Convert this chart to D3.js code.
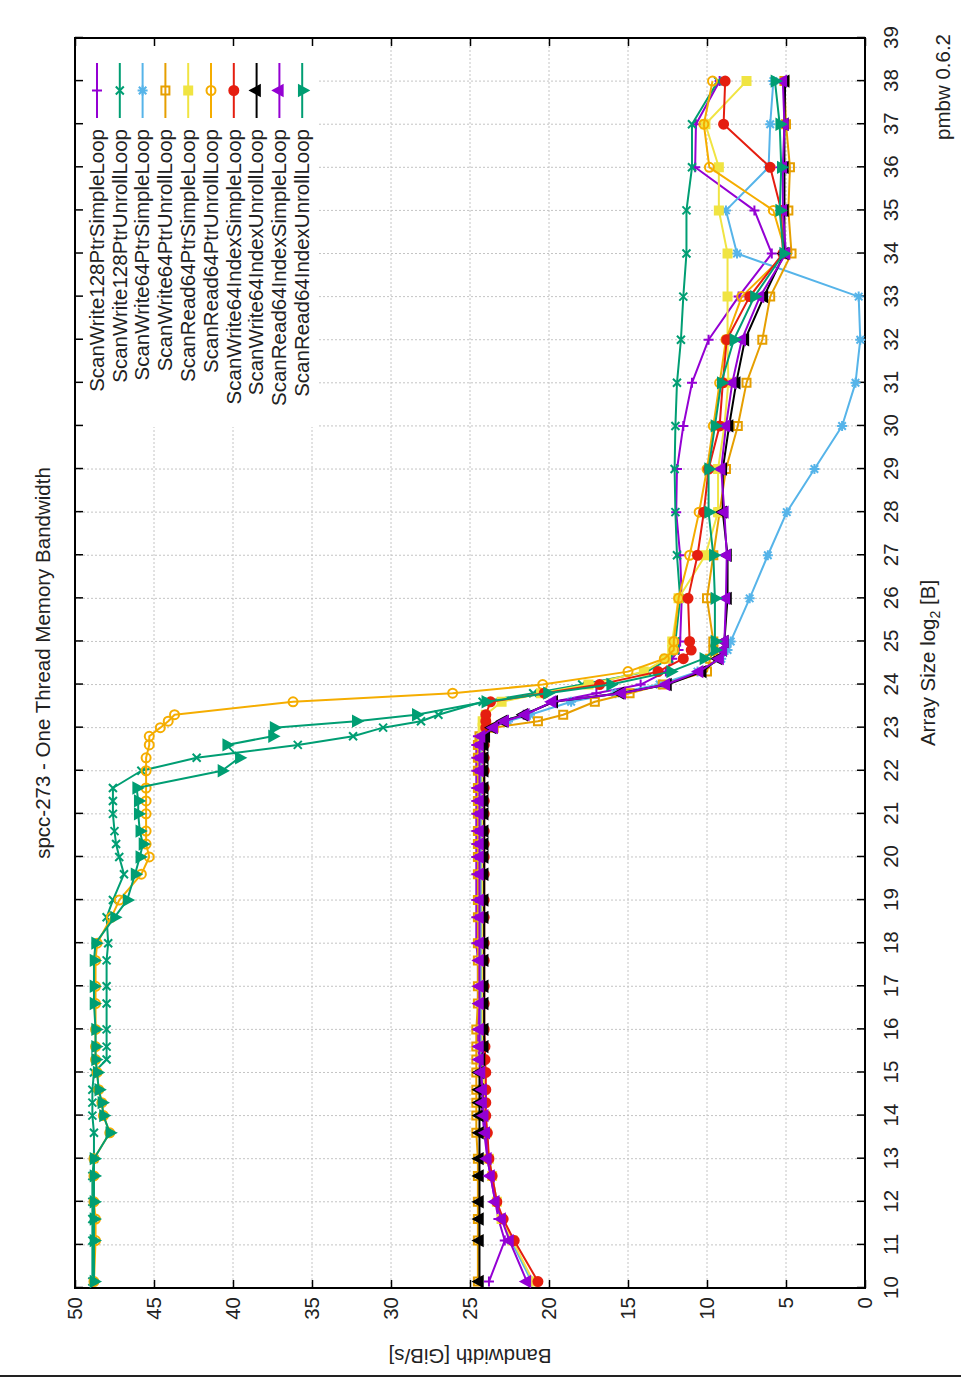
<!DOCTYPE html>
<html>
<head>
<meta charset="utf-8">
<script src="https://cdn.jsdelivr.net/npm/d3@7"></script>
<style>
  body { margin: 0; background: #fff; }
  svg { display: block; }
  text { font-family: "Liberation Sans", Arial, sans-serif; fill: #222; }
</style>
</head>
<body>
<svg id="chart" width="961" height="1381"></svg>
<script>
// array size (log2 bytes) of every measurement
const sizes = [10.15, 11.1, 11.6, 12.0, 12.6, 13.0, 13.6, 14.0, 14.3, 14.6,
  15.0, 15.3, 15.6, 16.0, 16.6, 17.0, 17.6, 18.0, 18.6, 19.0,
  19.6, 20.0, 20.3, 20.6, 21.0, 21.3, 21.6, 22.0, 22.3, 22.6,
  22.8, 23.0, 23.15, 23.3, 23.6, 23.8, 24.0, 24.3, 24.6, 24.8, 25.0,
  26, 27, 28, 29, 30, 31, 32, 33, 34, 35, 36, 37, 38];

const seriesNames = ['ScanWrite128PtrSimpleLoop', 'ScanWrite128PtrUnrollLoop', 'ScanWrite64PtrSimpleLoop',
  'ScanWrite64PtrUnrollLoop', 'ScanRead64PtrSimpleLoop', 'ScanRead64PtrUnrollLoop',
  'ScanWrite64IndexSimpleLoop', 'ScanWrite64IndexUnrollLoop', 'ScanRead64IndexSimpleLoop',
  'ScanRead64IndexUnrollLoop'];

// bandwidth GiB/s
const sw128PtrSimple = [23.8, 22.8, 23.2, 23.4, 23.7, 23.9, 24.1, 24.2, 24.3, 24.3,
  24.4, 24.4, 24.5, 24.5, 24.5, 24.5, 24.5, 24.6, 24.6, 24.6,
  24.6, 24.6, 24.6, 24.6, 24.6, 24.6, 24.6, 24.6, 24.6, 24.6,
  24.5, 24.0, 22.6, 21.6, 19.7, 17.0, 14.2, 12.6, 12.2, 11.8, 11.7,
  11.6, 11.7, 11.95, 11.9, 11.5, 10.95, 9.9, 8.0, 5.9, 7.0, 10.75, 10.7, 9.2];
const sw128PtrUnroll = [48.9, 48.9, 48.9, 48.9, 48.9, 48.8, 48.8, 48.9, 48.9, 48.9,
  48.8, 48.0, 48.0, 48.0, 48.0, 48.0, 48.0, 47.9, 48.0, 47.6,
  46.9, 47.2, 47.4, 47.5, 47.6, 47.6, 47.6, 45.8, 42.3, 35.9,
  32.4, 30.5, 28.1, 27.0, 24.2, 21.0, 17.9, 13.8, 12.4, 12.0, 12.0,
  11.7, 11.9, 12.0, 12.05, 12.0, 11.9, 11.65, 11.5, 11.3, 11.3, 10.95, 10.95, 9.3];
const sw64PtrSimple = [21.1, 22.4, 23.0, 23.3, 23.6, 23.8, 24.0, 24.1, 24.2, 24.2,
  24.3, 24.3, 24.3, 24.3, 24.3, 24.3, 24.3, 24.3, 24.3, 24.3,
  24.3, 24.3, 24.3, 24.3, 24.3, 24.3, 24.3, 24.3, 24.3, 24.3,
  24.3, 23.8, 22.6, 21.2, 18.6, 15.8, 13.0, 10.6, 9.1, 8.7, 8.5,
  7.3, 6.15, 4.95, 3.2, 1.45, 0.6, 0.3, 0.4, 8.1, 8.8, 6.1, 6.0, 5.8];
const sw64PtrUnroll = [24.5, 24.5, 24.5, 24.5, 24.5, 24.5, 24.6, 24.6, 24.6, 24.6,
  24.6, 24.6, 24.6, 24.6, 24.5, 24.5, 24.5, 24.5, 24.5, 24.5,
  24.5, 24.5, 24.5, 24.5, 24.5, 24.5, 24.5, 24.5, 24.5, 24.5,
  24.4, 23.5, 20.7, 19.1, 17.1, 14.9, 12.8, 10.0, 9.8, 9.6, 9.6,
  10.0, 9.6, 9.2, 8.8, 8.05, 7.5, 6.5, 6.0, 4.65, 4.85, 4.75, 5.0, 5.1];
const sr64PtrSimple = [21.0, 22.3, 23.0, 23.3, 23.6, 23.8, 23.95, 24.05, 24.1, 24.1,
  24.15, 24.2, 24.2, 24.2, 24.2, 24.2, 24.2, 24.2, 24.2, 24.2,
  24.2, 24.2, 24.2, 24.2, 24.2, 24.2, 24.2, 24.2, 24.2, 24.2,
  24.2, 24.2, 24.2, 24.0, 23.0, 20.5, 17.5, 14.0, 12.6, 12.2, 12.2,
  11.8, 10.1, 9.3, 9.3, 8.9, 8.65, 8.7, 8.7, 8.7, 9.25, 9.25, 10.1, 7.5];
const sr64PtrUnroll = [48.8, 48.7, 48.7, 48.8, 48.8, 48.8, 47.8, 48.2, 48.3, 48.5,
  48.6, 48.7, 48.7, 48.7, 48.7, 48.7, 48.7, 48.6, 47.7, 47.2,
  45.8, 45.3, 45.5, 45.5, 45.5, 45.5, 45.5, 45.5, 45.5, 45.3,
  45.3, 44.6, 44.1, 43.7, 36.2, 26.1, 20.4, 15.0, 12.7, 12.1, 12.1,
  11.8, 11.1, 10.5, 10.0, 9.6, 9.2, 8.8, 7.8, 5.0, 5.8, 9.85, 10.2, 9.65];
const sw64IdxSimple = [20.7, 22.2, 22.9, 23.3, 23.6, 23.8, 23.9, 24.0, 24.0, 24.0,
  24.0, 24.05, 24.05, 24.1, 24.1, 24.1, 24.1, 24.1, 24.1, 24.1,
  24.1, 24.1, 24.1, 24.1, 24.1, 24.1, 24.1, 24.1, 24.1, 24.1,
  24.1, 24.0, 24.0, 24.0, 23.7, 20.3, 16.8, 13.1, 11.5, 11.0, 11.1,
  11.2, 10.6, 10.2, 9.9, 9.2, 9.0, 8.75, 7.3, 5.2, 5.3, 6.0, 8.95, 8.85];
const sw64IdxUnroll = [24.4, 24.4, 24.4, 24.4, 24.4, 24.4, 24.4, 24.4, 24.4, 24.4,
  24.4, 24.3, 24.1, 24.1, 24.1, 24.1, 24.1, 24.1, 24.1, 24.1,
  24.1, 24.1, 24.1, 24.1, 24.1, 24.1, 24.1, 24.1, 24.1, 24.1,
  24.0, 23.6, 22.9, 21.6, 19.7, 15.5, 12.5, 10.3, 9.3, 9.0, 8.9,
  8.7, 8.7, 9.0, 9.0, 8.6, 8.15, 7.6, 6.4, 5.1, 5.1, 5.1, 5.1, 5.05];
const sr64IdxSimple = [21.4, 22.5, 23.0, 23.4, 23.7, 23.9, 24.0, 24.1, 24.2, 24.2,
  24.3, 24.4, 24.4, 24.4, 24.4, 24.4, 24.4, 24.4, 24.4, 24.4,
  24.4, 24.4, 24.4, 24.4, 24.4, 24.4, 24.4, 24.4, 24.4, 24.4,
  24.3, 23.5, 22.8, 21.5, 19.8, 15.4, 12.6, 10.5, 9.2, 9.0, 8.9,
  8.8, 8.75, 8.9, 9.1, 8.8, 8.4, 7.8, 6.65, 5.0, 5.2, 5.2, 5.1, 5.2];
const sr64IdxUnroll = [48.8, 48.8, 48.8, 48.8, 48.8, 48.8, 47.8, 48.2, 48.3, 48.5,
  48.6, 48.7, 48.7, 48.7, 48.8, 48.8, 48.8, 48.7, 47.5, 46.7,
  46.2, 45.9, 45.7, 45.9, 46.0, 46.0, 46.1, 40.7, 39.6, 40.4,
  37.5, 37.4, 32.2, 28.4, 24.0, 20.1, 16.1, 12.3, 10.2, 9.5, 9.5,
  9.5, 9.6, 9.9, 9.9, 9.5, 9.1, 8.3, 7.0, 5.15, 5.4, 5.3, 5.4, 5.7];

const xTicks = d3.range(10, 40);
const yTicks = d3.range(0, 55, 5);

const allValues = [sw128PtrSimple, sw128PtrUnroll, sw64PtrSimple, sw64PtrUnroll, sr64PtrSimple,
  sr64PtrUnroll, sw64IdxSimple, sw64IdxUnroll, sr64IdxSimple, sr64IdxUnroll];

// line colour + point type per series (gnuplot style)
const styles = [
  { color: '#9400d3', marker: 'plus', filled: false },
  { color: '#009e73', marker: 'cross', filled: false },
  { color: '#56b4e9', marker: 'star', filled: false },
  { color: '#e69f00', marker: 'square', filled: false },
  { color: '#f0e442', marker: 'square', filled: true },
  { color: '#f5ad00', marker: 'circle', filled: false },
  { color: '#e51e10', marker: 'circle', filled: true },
  { color: '#000000', marker: 'triUp', filled: true },
  { color: '#9400d3', marker: 'triUp', filled: true },
  { color: '#009e73', marker: 'triDown', filled: true }
];

const W = 961, H = 1381;
// plot drawn unrotated, then the whole page turned a quarter turn
const pLeft = 93, pRight = 1343, pTop = 75, pBottom = 865;
const FS = 20.5;

const svg = d3.select('#chart');
svg.append('rect').attr('width', W).attr('height', H).attr('fill', '#fff');
svg.append('line')
  .attr('x1', 0).attr('x2', W).attr('y1', 1376).attr('y2', 1376)
  .attr('stroke', '#222').attr('stroke-width', 2);

const g = svg.append('g').attr('transform', `translate(0,${H}) rotate(-90)`);

const x = d3.scaleLinear().domain([10, 39]).range([pLeft, pRight]);
const y = d3.scaleLinear().domain([0, 50]).range([pBottom, pTop]);

/* grid */
const grid = g.append('g')
  .attr('stroke', '#c4c4c4').attr('stroke-width', 1).attr('stroke-dasharray', '2,2');
grid.selectAll('.gx').data(xTicks).enter().append('line')
  .attr('x1', d => x(d)).attr('x2', d => x(d)).attr('y1', pTop).attr('y2', pBottom);
grid.selectAll('.gy').data(yTicks).enter().append('line')
  .attr('x1', pLeft).attr('x2', pRight).attr('y1', d => y(d)).attr('y2', d => y(d));

/* key background hides the grid */
g.append('rect')
  .attr('x', 954).attr('y', pTop + 1).attr('width', pRight - 954 - 1).attr('height', 316 - pTop)
  .attr('fill', '#fff');

/* axes */
function styleAxis(sel) {
  sel.select('.domain').remove();
  sel.selectAll('line').attr('stroke', '#000').attr('stroke-width', 1.5);
  sel.selectAll('text').attr('font-size', FS).attr('fill', '#222')
    .attr('font-family', '"Liberation Sans", Arial, sans-serif');
}
g.append('g').attr('transform', `translate(0,${pBottom})`)
  .call(d3.axisBottom(x).tickValues(xTicks).tickSize(-8).tickSizeOuter(0).tickPadding(18))
  .call(styleAxis);
g.append('g').attr('transform', `translate(0,${pTop})`)
  .call(d3.axisTop(x).tickValues(xTicks).tickSize(-8).tickSizeOuter(0).tickFormat(() => ''))
  .call(styleAxis);
g.append('g').attr('transform', `translate(${pLeft},0)`)
  .call(d3.axisLeft(y).tickValues(yTicks).tickSize(-8).tickSizeOuter(0).tickPadding(9))
  .call(styleAxis);
g.append('g').attr('transform', `translate(${pRight},0)`)
  .call(d3.axisRight(y).tickValues(yTicks).tickSize(-8).tickSizeOuter(0).tickFormat(() => ''))
  .call(styleAxis);

g.append('rect')
  .attr('x', pLeft).attr('y', pTop).attr('width', pRight - pLeft).attr('height', pBottom - pTop)
  .attr('fill', 'none').attr('stroke', '#000').attr('stroke-width', 2);

/* texts */
g.append('text')
  .attr('x', (pLeft + pRight) / 2).attr('y', 50)
  .attr('text-anchor', 'middle').attr('font-size', FS)
  .text('spcc-273 - One Thread Memory Bandwidth');

const xl = g.append('text')
  .attr('x', (pLeft + pRight) / 2).attr('y', 935)
  .attr('text-anchor', 'middle').attr('font-size', FS);
xl.append('tspan').text('Array Size log');
xl.append('tspan').attr('dy', 5).attr('font-size', 14).text('2');
xl.append('tspan').attr('dy', -5).text(' [B]');

g.append('text')
  .attr('transform', `translate(32,${(pTop + pBottom) / 2}) rotate(-90)`)
  .attr('text-anchor', 'middle').attr('font-size', FS)
  .text('Bandwidth [GiB/s]');

g.append('text')
  .attr('x', 1347).attr('y', 950)
  .attr('text-anchor', 'end').attr('font-size', FS)
  .text('pmbw 0.6.2');

/* markers */
function markerPath(type, s) {
  const d = s * 0.75;
  switch (type) {
    case 'plus': return `M${-s},0H${s}M0,${-s}V${s}`;
    case 'cross': return `M${-s},${-s}L${s},${s}M${-s},${s}L${s},${-s}`;
    case 'star': return `M${-s},0H${s}M0,${-s}V${s}M${-d},${-d}L${d},${d}M${-d},${d}L${d},${-d}`;
    case 'square': return `M${-s},${-s}H${s}V${s}H${-s}Z`;
    case 'circle': return `M${s},0A${s},${s} 0 1,1 ${-s},0A${s},${s} 0 1,1 ${s},0Z`;
    case 'triUp': return `M0,${-s * 1.2}L${s},${s * 0.65}L${-s},${s * 0.65}Z`;
    case 'triDown': return `M0,${s * 1.2}L${s},${-s * 0.65}L${-s},${-s * 0.65}Z`;
  }
}
const markerSize = { plus: 5, cross: 4, star: 5, square: 4, circle: 4.5, triUp: 5, triDown: 5 };

function drawMarker(sel, st) {
  sel.append('path')
    .attr('d', markerPath(st.marker, markerSize[st.marker]))
    .attr('fill', st.filled ? st.color : 'none')
    .attr('stroke', st.color).attr('stroke-width', 2);
}

/* lines + points */
const line = d3.line().x(d => x(d.s)).y(d => y(d.b));
const plot = g.append('g');
allValues.forEach((vals, i) => {
  const st = styles[i];
  const data = sizes.map((s, k) => ({ s: s, b: vals[k] }));
  const sg = plot.append('g').attr('class', 'series');
  sg.append('path').datum(data)
    .attr('d', line).attr('fill', 'none')
    .attr('stroke', st.color).attr('stroke-width', 2).attr('stroke-linejoin', 'round');
  sg.selectAll('.pt').data(data).enter().append('g')
    .attr('class', 'pt')
    .attr('transform', d => `translate(${x(d.s)},${y(d.b)})`)
    .each(function () { drawMarker(d3.select(this), st); });
});

/* key */
const key = g.append('g');
seriesNames.forEach((name, i) => {
  const st = styles[i];
  const v = 97 + i * 22.8;
  key.append('text')
    .attr('x', 1252).attr('y', v).attr('dy', '0.33em')
    .attr('text-anchor', 'end').attr('font-size', FS)
    .text(name);
  key.append('line')
    .attr('x1', 1263).attr('x2', 1318).attr('y1', v).attr('y2', v)
    .attr('stroke', st.color).attr('stroke-width', 2);
  key.append('g').attr('transform', `translate(1290.5,${v})`)
    .call(sel => drawMarker(sel, st));
});
</script>
</body>
</html>
